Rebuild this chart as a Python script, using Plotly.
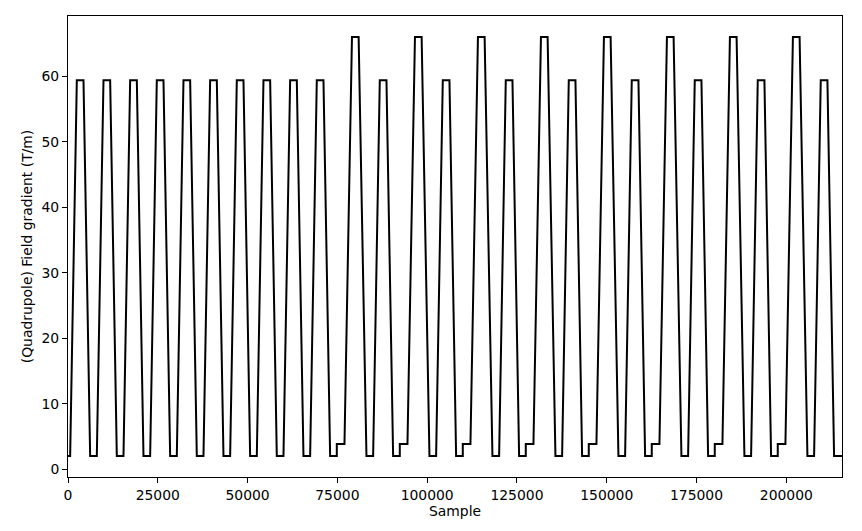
import plotly.graph_objects as go

# ---- values ----
# field levels (T/m)
base_level = 2.0
step_level = 3.85
low_peak = 59.4
high_peak = 66.0

# record length and start of first ramp (samples)
n_samples = 215500
first_rise_start = 600

# segment durations (samples) for each pulse type
# low pulse: rise, flat top, fall, flat bottom
low_pulse_durations = [1856, 1856, 1856, 1856]
# high pulse: pre-step plateau, rise, flat top, fall, flat bottom
high_pulse_durations = [2135, 2088, 1856, 2180, 1856]

# order of pulses as seen in the record
pulse_sequence = [
    "low", "low", "low", "low", "low", "low", "low", "low", "low", "low",
    "high", "low", "high", "low", "high", "low", "high", "low",
    "high", "low", "high", "low", "high", "low", "high", "low",
]

x_tick_values = [0, 25000, 50000, 75000, 100000, 125000, 150000, 175000, 200000]
y_tick_values = [0, 10, 20, 30, 40, 50, 60]

# ---- build the piecewise-linear waveform from the segment table ----
xs = [0]
ys = [base_level]
t = first_rise_start
xs.append(t)
ys.append(base_level)
for kind in pulse_sequence:
    if kind == "low":
        rise, top, fall, bottom = low_pulse_durations
        t += rise; xs.append(t); ys.append(low_peak)
        t += top; xs.append(t); ys.append(low_peak)
        t += fall; xs.append(t); ys.append(base_level)
        t += bottom; xs.append(t); ys.append(base_level)
    else:
        step, rise, top, fall, bottom = high_pulse_durations
        xs.append(t + 1); ys.append(step_level)
        t += step; xs.append(t); ys.append(step_level)
        t += rise; xs.append(t); ys.append(high_peak)
        t += top; xs.append(t); ys.append(high_peak)
        t += fall; xs.append(t); ys.append(base_level)
        t += bottom; xs.append(t); ys.append(base_level)
xs.append(n_samples)
ys.append(base_level)

font = dict(family="DejaVu Sans", size=13.9, color="black")

fig = go.Figure()
fig.add_trace(go.Scatter(x=xs, y=ys, mode="lines",
                         line=dict(color="black", width=2), showlegend=False))

axis_common = dict(
    showline=True, linecolor="black", linewidth=1, mirror=True,
    ticks="outside", ticklen=5, tickwidth=1, tickcolor="black",
    showgrid=False, zeroline=False, tickfont=font,
)

# the page body adds an 8 px offset, so the figure is 8 px smaller each way
fig.update_layout(
    width=854, height=523,
    margin=dict(l=60, r=20, t=8, b=54, autoexpand=False),
    paper_bgcolor="white", plot_bgcolor="white",
    font=font,
    xaxis=dict(range=[0, n_samples], tickvals=x_tick_values,
               ticktext=[str(v) for v in x_tick_values],
               title=dict(text="Sample", font=font, standoff=4),
               **axis_common),
    yaxis=dict(range=[-1.2, 69.2], tickvals=y_tick_values,
               ticktext=[str(v) for v in y_tick_values],
               title=dict(text="(Quadrupole) Field gradient (T/m)", font=font, standoff=5),
               **axis_common),
)

fig.write_html("out.html")
